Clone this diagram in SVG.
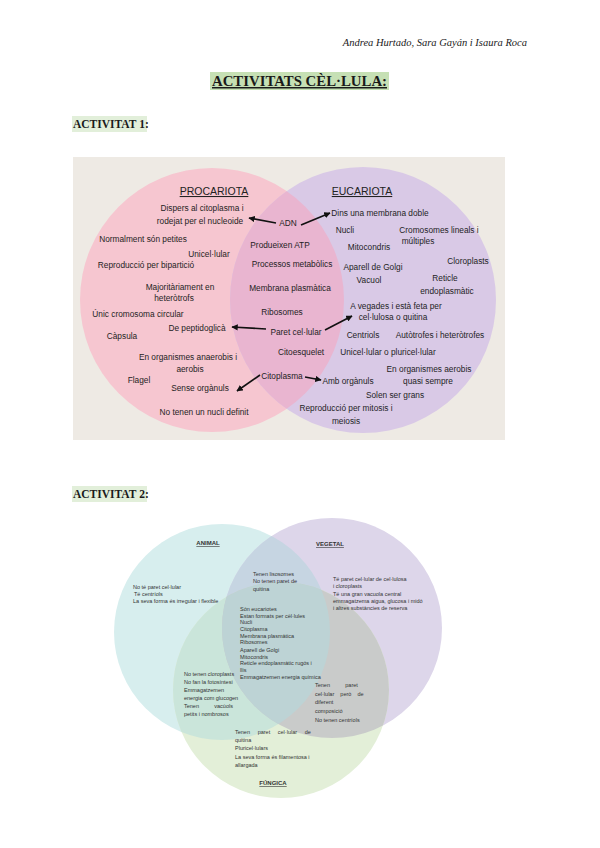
<svg xmlns="http://www.w3.org/2000/svg" width="600" height="848" viewBox="0 0 600 848">
<defs>
<style>
.hdr{font-family:"Liberation Serif",serif;fill:#1a1a1a}
.t1{font-family:"Liberation Sans",Arial,sans-serif;font-size:8.3px;fill:#1e1e1e;text-anchor:middle}
.ttl{font-family:"Liberation Sans",Arial,sans-serif;font-size:10.5px;fill:#222;text-anchor:middle;text-decoration:underline}
.t2{font-family:"Liberation Sans",Arial,sans-serif;font-size:5.5px;fill:#333;white-space:pre}
.ttl2{font-family:"Liberation Sans",Arial,sans-serif;font-size:6px;font-weight:bold;fill:#333;text-anchor:middle;text-decoration:underline}
.arr{stroke:#111;stroke-width:1.6;fill:none;marker-end:url(#ah)}
</style>
<marker id="ah" viewBox="0 0 10 10" refX="9" refY="5" markerWidth="4" markerHeight="4" orient="auto">
<path d="M0,0 L10,5 L0,10 z" fill="#111"/>
</marker>
<clipPath id="cPur"><circle cx="363" cy="300" r="133"/></clipPath>
<clipPath id="cA"><circle cx="222" cy="632" r="108"/></clipPath>
<clipPath id="cV"><circle cx="332" cy="628" r="110"/></clipPath>
<clipPath id="cF"><circle cx="281" cy="690" r="108"/></clipPath>
</defs>
<rect width="600" height="848" fill="#ffffff"/>

<g id="header">
<text class="hdr" x="527" y="46" font-size="10.5" font-style="italic" text-anchor="end">Andrea Hurtado, Sara Gayán i Isaura Roca</text>
<rect x="210" y="72" width="179" height="18" fill="#c6e0b4"/>
<text class="hdr" x="299.5" y="86" font-size="14.8" font-weight="bold" text-anchor="middle" text-decoration="underline">ACTIVITATS CÈL·LULA:</text>
<rect x="72" y="116" width="75" height="16" fill="#e2efda"/>
<text class="hdr" x="73" y="128" font-size="11.5" font-weight="bold">ACTIVITAT 1:</text>
<rect x="72" y="486" width="75" height="16" fill="#e2efda"/>
<text class="hdr" x="73" y="498" font-size="11.5" font-weight="bold">ACTIVITAT 2:</text>
</g>

<g id="activitat1">
<rect x="73" y="157" width="432" height="283" fill="#eeeae4"/>
<g id="procariota">
<circle cx="212" cy="300" r="132" fill="#f6c6d0"/>
</g>
<g id="eucariota">
<circle cx="363" cy="300" r="133" fill="#d9c9e6"/>
</g>
<g id="overlap1">
<circle cx="212" cy="300" r="132" fill="#e9b5d0" clip-path="url(#cPur)"/>
</g>
<g id="labels1">
<text class="ttl" x="214" y="195">PROCARIOTA</text>
<text class="ttl" x="362" y="195">EUCARIOTA</text>
<text class="t1" x="202" y="211">Dispers al citoplasma i</text>
<text class="t1" x="200" y="224">rodejat per el nucleoide</text>
<text class="t1" x="143" y="242">Normalment són petites</text>
<text class="t1" x="209" y="257">Unicel·lular</text>
<text class="t1" x="146" y="268">Reproducció per bipartició</text>
<text class="t1" x="180" y="290">Majoritàriament en</text>
<text class="t1" x="174" y="301">heteròtrofs</text>
<text class="t1" x="138" y="317">Únic cromosoma circular</text>
<text class="t1" x="197" y="331">De peptidoglicà</text>
<text class="t1" x="122" y="339">Càpsula</text>
<text class="t1" x="188" y="360">En organismes anaerobis i</text>
<text class="t1" x="190" y="372">aerobis</text>
<text class="t1" x="139" y="383">Flagel</text>
<text class="t1" x="200" y="391">Sense orgànuls</text>
<text class="t1" x="204" y="415">No tenen un nucli definit</text>

<text class="t1" x="288" y="226">ADN</text>
<text class="t1" x="280" y="248">Produeixen ATP</text>
<text class="t1" x="292" y="267">Processos metabòlics</text>
<text class="t1" x="290" y="291">Membrana plasmàtica</text>
<text class="t1" x="282" y="315">Ribosomes</text>
<text class="t1" x="296" y="335">Paret cel·lular</text>
<text class="t1" x="301" y="355">Citoesquelet</text>
<text class="t1" x="282" y="379">Citoplasma</text>

<text class="t1" x="380" y="216">Dins una membrana doble</text>
<text class="t1" x="345" y="233">Nucli</text>
<text class="t1" x="439" y="233">Cromosomes lineals i</text>
<text class="t1" x="418" y="244">múltiples</text>
<text class="t1" x="369" y="250">Mitocondris</text>
<text class="t1" x="468" y="264">Cloroplasts</text>
<text class="t1" x="373" y="270">Aparell de Golgi</text>
<text class="t1" x="445" y="281">Reticle</text>
<text class="t1" x="369" y="283">Vacuol</text>
<text class="t1" x="447" y="294">endoplasmàtic</text>
<text class="t1" x="396" y="309">A vegades i està feta per</text>
<text class="t1" x="393" y="320">cel·lulosa o quitina</text>
<text class="t1" x="363" y="338">Centriols</text>
<text class="t1" x="440" y="338">Autòtrofes i heteròtrofes</text>
<text class="t1" x="388" y="355">Unicel·lular o pluricel·lular</text>
<text class="t1" x="429" y="372">En organismes aerobis</text>
<text class="t1" x="348" y="384">Amb orgànuls</text>
<text class="t1" x="428" y="384">quasi sempre</text>
<text class="t1" x="395" y="398">Solen ser grans</text>
<text class="t1" x="346" y="411">Reproducció per mitosis i</text>
<text class="t1" x="346" y="424">meiosis</text>
</g>
<g id="connectors1">
<line class="arr" x1="276" y1="223" x2="249" y2="218"/>
<line class="arr" x1="301" y1="225" x2="330" y2="213"/>
<line class="arr" x1="266" y1="329" x2="232" y2="327"/>
<line class="arr" x1="325" y1="330" x2="352" y2="316"/>
<line class="arr" x1="260" y1="375" x2="237" y2="391"/>
<line class="arr" x1="305" y1="377" x2="321" y2="380"/>
</g>
</g>

<g id="activitat2">
<g id="animal"><circle cx="222" cy="632" r="108" fill="#d7eeee"/></g>
<g id="vegetal"><circle cx="332" cy="628" r="110" fill="#ddd6ea"/></g>
<g id="fungica"><circle cx="281" cy="690" r="108" fill="#e3efd8"/></g>
<g id="overlaps2">
<g clip-path="url(#cA)"><circle cx="332" cy="628" r="110" fill="#c6d5e2"/></g>
<g clip-path="url(#cA)"><circle cx="281" cy="690" r="108" fill="#cae5da"/></g>
<g clip-path="url(#cV)"><circle cx="281" cy="690" r="108" fill="#c9cbca"/></g>
<g clip-path="url(#cA)"><g clip-path="url(#cV)"><circle cx="281" cy="690" r="108" fill="#bdd3d5"/></g></g>
</g>
<g id="labels2">
<text class="ttl2" x="208" y="545">ANIMAL</text>
<text class="ttl2" x="330" y="546">VEGETAL</text>
<text class="ttl2" x="273" y="785">FÚNGICA</text>

<text class="t2" x="133" y="589">No té paret cel·lular</text>
<text class="t2" x="134" y="596">Té centríols</text>
<text class="t2" x="133" y="603">La seva forma és irregular i flexible</text>

<text class="t2" x="253" y="576">Tenen lisosomes</text>
<text class="t2" x="253" y="583">No tenen paret de</text>
<text class="t2" x="253" y="591">quitina</text>

<text class="t2" x="333" y="581">Té paret cel·lular de cel·lulosa</text>
<text class="t2" x="333" y="588">i cloroplasts</text>
<text class="t2" x="333" y="596">Té una gran vacuola central</text>
<text class="t2" x="333" y="603">emmagatzema aigua, glucosa i midó</text>
<text class="t2" x="333" y="610">i altres substàncies de reserva</text>

<text class="t2" x="240" y="611">Són eucariotes</text>
<text class="t2" x="240" y="618">Estan formats per cèl·lules</text>
<text class="t2" x="240" y="624">Nucli</text>
<text class="t2" x="240" y="631">Citoplasma</text>
<text class="t2" x="240" y="638">Membrana plasmàtica</text>
<text class="t2" x="240" y="644">Ribosomes</text>
<text class="t2" x="240" y="652">Aparell de Golgi</text>
<text class="t2" x="240" y="659">Mitocondris</text>
<text class="t2" x="240" y="665">Reticle endoplasmàtic rugós i</text>
<text class="t2" x="240" y="672">llis</text>
<text class="t2" x="240" y="679">Emmagatzemen energia química</text>

<text class="t2" x="184" y="676">No tenen cloroplasts</text>
<text class="t2" x="184" y="684">No fan la fotosíntesi</text>
<text class="t2" x="184" y="692">Emmagatzemen</text>
<text class="t2" x="184" y="700">energia com glucogen</text>
<text class="t2" x="184" y="708">Tenen          vacúols</text>
<text class="t2" x="184" y="716">petits i nombrosos</text>

<text class="t2" x="315" y="687">Tenen          paret</text>
<text class="t2" x="315" y="696">cel·lular    però    de</text>
<text class="t2" x="315" y="704">diferent</text>
<text class="t2" x="315" y="713">composició</text>
<text class="t2" x="315" y="722">No tenen centríols</text>

<text class="t2" x="235" y="734">Tenen     paret     cel·lular     de</text>
<text class="t2" x="235" y="742">quitina</text>
<text class="t2" x="235" y="750">Pluricel·lulars</text>
<text class="t2" x="235" y="759">La seva forma és filamentosa i</text>
<text class="t2" x="235" y="767">allargada</text>
</g>
</g>
</svg>
